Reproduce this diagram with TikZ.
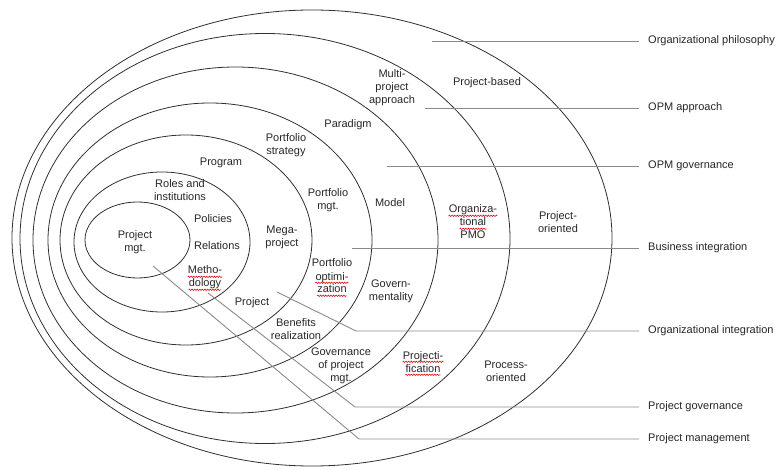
\documentclass[tikz,border=0pt]{standalone}
\usepackage{fontspec}
\setmainfont{Liberation Sans}
\usetikzlibrary{decorations.pathmorphing}
\definecolor{ring}{HTML}{303030}
\definecolor{lead}{HTML}{8A8A8A}
\definecolor{txt}{HTML}{262626}
\tikzset{
  ring/.style={draw=ring, line width=0.8pt},
  leader/.style={draw=lead, line width=0.9pt, shorten >=9pt},
  lab/.style={align=center, inner sep=0pt, text=txt, font=\fontsize{11}{13}\selectfont},
  wlab/.style={anchor=base, inner sep=0pt, text=txt, font=\fontsize{11}{13}\selectfont},
  rlab/.style={anchor=west, inner sep=0pt, text=txt, font=\fontsize{11}{13}\selectfont},
  wave/.style={draw=red!85!black, line width=0.55pt, decorate,
    decoration={snake, amplitude=0.7pt, segment length=2.6pt}},
}
\newcommand\waveunder[1]{\draw[wave] ([yshift=-2.8pt]#1.base west) -- ([yshift=-2.8pt]#1.base east);}
\begin{document}
\begin{tikzpicture}[x=1pt,y=-1pt]
\useasboundingbox (0,0) rectangle (776,470);
% rings
\draw[ring] (312,238) ellipse [x radius=300pt, y radius=228pt];
\draw[ring] (265,238.5) ellipse [x radius=245pt, y radius=205pt];
\draw[ring] (235.5,240) ellipse [x radius=202.5pt, y radius=173pt];
\draw[ring] (210,240) ellipse [x radius=162pt, y radius=137pt];
\draw[ring] (186,240) ellipse [x radius=126pt, y radius=105pt];
\draw[ring] (162,242) ellipse [x radius=88pt, y radius=70pt];
\draw[ring] (137.5,240) ellipse [x radius=52.5pt, y radius=38pt];
% inner labels
\node[lab] (multi) at (392,88) {Multi-\\project\\approach};
\node[lab] (pbased) at (487,83) {Project-based};
\node[lab] (paradigm) at (348,125) {Paradigm};
\node[lab] (pstrat) at (286,145) {Portfolio\\strategy};
\node[lab] (program) at (221,163) {Program};
\node[lab] (roles) at (180,190) {Roles and\\institutions};
\node[lab] (policies) at (213,219) {Policies};
\node[lab] (pmgt) at (135,242) {Project\\mgt.};
\node[lab] (relations) at (217,246) {Relations};
\node[wlab] (metho1) at (205,274) {Metho-};
\node[wlab] (metho2) at (205,287) {dology};
\node[lab] (mega) at (282,237) {Mega-\\project};
\node[lab] (portmgt) at (328,200) {Portfolio\\mgt.};
\node[lab] (model) at (390,203) {Model};
\node[wlab] (org1) at (473,213) {Organiza-};
\node[wlab] (org2) at (473,226) {tional};
\node[wlab] (org3) at (473,239) {PMO};
\node[lab] (poriented) at (558,222) {Project-\\oriented};
\node[wlab] (popt1) at (332,267) {Portfolio};
\node[wlab] (popt2) at (332,280) {optimi-};
\node[wlab] (popt3) at (332,293) {zation};
\node[lab] (govment) at (391,291) {Govern-\\mentality};
\node[lab] (project) at (252,303) {Project};
\node[lab] (benefits) at (296,329) {Benefits\\realization};
\node[lab] (govpm) at (341,366) {Governance\\of project\\mgt.};
\node[wlab] (projfic1) at (423,359) {Projecti-};
\node[wlab] (projfic2) at (423,372) {fication};
\node[lab] (procor) at (506,371) {Process-\\oriented};
% spell-check wave underlines
\waveunder{metho1}
\waveunder{metho2}
\waveunder{org1}
\waveunder{org2}
\waveunder{popt2}
\waveunder{popt3}
\waveunder{projfic1}
\waveunder{projfic2}
% right labels
\node[rlab] (l1) at (648,41) {Organizational philosophy};
\node[rlab] (l2) at (648,108) {OPM approach};
\node[rlab] (l3) at (648,166) {OPM governance};
\node[rlab] (l4) at (648,248) {Business integration};
\node[rlab] (l5) at (648,331) {Organizational integration};
\node[rlab] (l6) at (648,407) {Project governance};
\node[rlab] (l7) at (648,439) {Project management};
% leader start points and bends
\coordinate (s1) at (432,41);
\coordinate (s2) at (425,108);
\coordinate (s3) at (387,166);
\coordinate (s4) at (352,248);
\coordinate (s5) at (277,292);
\coordinate (b5) at (356,331);
\coordinate (s6) at (208,293);
\coordinate (b6) at (355,407);
\coordinate (s7) at (153,266);
\coordinate (b7) at (359,439);
\draw[leader] (s1) -- (l1.west);
\draw[leader] (s2) -- (l2.west);
\draw[leader] (s3) -- (l3.west);
\draw[leader] (s4) -- (l4.west);
\draw[leader] (s5) -- (b5) -- (l5.west);
\draw[leader] (s6) -- (b6) -- (l6.west);
\draw[leader] (s7) -- (b7) -- (l7.west);
\end{tikzpicture}
\end{document}
